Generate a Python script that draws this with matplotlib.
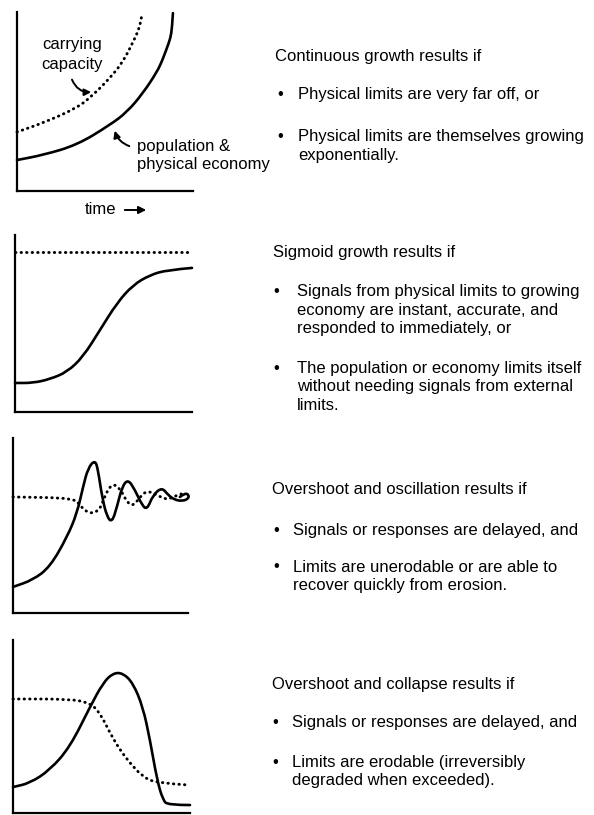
import numpy as np
import matplotlib
matplotlib.use('Agg')
import matplotlib.pyplot as plt
from matplotlib.path import Path
from matplotlib.patches import PathPatch, FancyArrowPatch

plt.rcParams['font.family'] = ['Liberation Sans', 'DejaVu Sans']

W, H = 594, 815

# Panel 1 - continuous growth (time and level on a 0-100 scale)
p1_pop_t = [0, 14.8, 34.1, 52.8, 62.5, 71.6, 79.5, 82.4, 85.2, 87.2, 88.1, 88.6]
p1_pop_v = [17.3, 20.1, 25.7, 36.9, 44.1, 54.7, 66.5, 72.6, 79.9, 85.5, 91.1, 99.4]
p1_cap_t = [0, 14.8, 34.1, 43.2, 52.8, 60.2, 65.9, 68.2, 69.9, 71.0]
p1_cap_v = [33.0, 38.0, 46.4, 53.6, 63.1, 72.1, 83.2, 88.0, 92.7, 98.3]

# Panel 2 - sigmoid growth
p2_pop_t = [0, 10.2, 19.8, 29.4, 38.4, 48.0, 57.6, 66.7, 76.3, 85.9, 100]
p2_pop_v = [16.4, 16.4, 18.6, 22.6, 31.1, 46.3, 61.6, 71.8, 77.4, 80.2, 81.4]
p2_cap_t = [0, 99]
p2_cap_v = [90.4, 90.4]

# Panel 3 - overshoot and oscillation
p3_pop_t = [0, 11.4, 21.1, 30.9, 36.6, 40.0, 42.9, 46.9, 48.6, 50.9, 53.7, 56.6,
            59.4, 62.3, 65.7, 69.7, 73.7, 76.6, 80.0, 85.1, 88.6, 92.6, 96.6,
            100, 100.6, 98.3, 95.4]
p3_pop_v = [14.9, 18.9, 26.3, 43.4, 57.1, 72.0, 82.9, 87.5, 81.7, 66.3, 54.9, 51.8,
            60.6, 72.0, 76.5, 70.3, 61.7, 59.0, 67.4, 71.8, 67.4, 64.6, 64.0,
            65.1, 67.4, 68.6, 66.3]
p3_cap_t = [0, 35.4, 38.3, 44.0, 49.7, 52.6, 56.6, 61.1, 65.1, 68.6, 72.6, 76.6,
            82.3, 88.0, 93.7, 98.3]
p3_cap_v = [66.3, 65.7, 61.1, 56.5, 58.9, 67.4, 74.0, 71.4, 63.4, 61.0, 66.3, 70.0,
            67.4, 64.6, 67.4, 68.6]

# Panel 4 - overshoot and collapse
p4_pop_t = [0, 9.6, 20.9, 32.2, 43.5, 50.8, 56.5, 62.1, 67.8, 73.4, 77.4, 81.4,
            84.7, 87.6, 100]
p4_pop_v = [15.0, 17.3, 24.9, 38.2, 61.3, 75.1, 80.9, 80.9, 75.1, 61.3, 42.2, 19.1,
            7.5, 4.6, 4.6]
p4_cap_t = [0, 32.2, 43.5, 49.2, 54.8, 60.5, 66.1, 73.4, 81.4, 98.9]
p4_cap_v = [65.9, 65.9, 63.6, 57.8, 46.2, 36.4, 28.9, 20.8, 17.3, 16.2]

panels = [
    (p1_pop_t, p1_pop_v, p1_cap_t, p1_cap_v),
    (p2_pop_t, p2_pop_v, p2_cap_t, p2_cap_v),
    (p3_pop_t, p3_pop_v, p3_cap_t, p3_cap_v),
    (p4_pop_t, p4_pop_v, p4_cap_t, p4_cap_v),
]

# axes boxes in pixels: left, right, top, bottom
boxes = [(17, 193, 12, 191), (15, 192, 235, 412), (13, 188, 438, 613), (13, 190, 640, 813)]

# text on the right: (x, y, text)
headings = [
    (275, 57, 'Continuous growth results if'),
    (273, 253, 'Sigmoid growth results if'),
    (272, 490, 'Overshoot and oscillation results if'),
    (272, 685, 'Overshoot and collapse results if'),
]
bullets = [
    (277, 298, [(95, ['Physical limits are very far off, or']),
                (137, ['Physical limits are themselves growing', 'exponentially.'])]),
    (273, 297, [(292, ['Signals from physical limits to growing',
                       'economy are instant, accurate, and',
                       'responded to immediately, or']),
                (368, ['The population or economy limits itself',
                       'without needing signals from external',
                       'limits.'])]),
    (273, 293, [(530, ['Signals or responses are delayed, and']),
                (567, ['Limits are unerodable or are able to',
                       'recover quickly from erosion.'])]),
    (272, 292, [(722, ['Signals or responses are delayed, and']),
                (762, ['Limits are erodable (irreversibly',
                       'degraded when exceeded).'])]),
]


def f(x, y):
    return (x / W, 1 - y / H)


def smooth_path(xs, ys):
    # quadratic bezier through the midpoints, the read points act as controls
    pts = list(zip(xs, ys))
    if len(pts) < 3:
        return Path(pts, [Path.MOVETO] + [Path.LINETO] * (len(pts) - 1))
    verts = [pts[0]]
    codes = [Path.MOVETO]
    mid = ((pts[0][0] + pts[1][0]) / 2, (pts[0][1] + pts[1][1]) / 2)
    verts.append(mid)
    codes.append(Path.LINETO)
    for i in range(1, len(pts) - 1):
        nxt = ((pts[i][0] + pts[i + 1][0]) / 2, (pts[i][1] + pts[i + 1][1]) / 2)
        if i == len(pts) - 2:
            nxt = pts[i + 1]
        verts += [pts[i], nxt]
        codes += [Path.CURVE3, Path.CURVE3]
    return Path(verts, codes)


fig = plt.figure(figsize=(W / 100, H / 100), dpi=100)

for (pt, pv, ct, cv), (l, r, t, b) in zip(panels, boxes):
    ax = fig.add_axes([l / W, 1 - b / H, (r - l) / W, (b - t) / H])
    ax.add_patch(PathPatch(smooth_path(pt, pv), fill=False, edgecolor='black',
                           lw=1.9, capstyle='round', joinstyle='round', clip_on=False))
    ax.add_patch(PathPatch(smooth_path(ct, cv), fill=False, edgecolor='black',
                           lw=2.1, linestyle=(0, (0.15, 1.75)), capstyle='round',
                           clip_on=False))
    ax.set_xlim(0, 100)
    ax.set_ylim(0, 100)
    ax.set_xticks([])
    ax.set_yticks([])
    for s in ['top', 'right']:
        ax.spines[s].set_visible(False)
    for s in ['left', 'bottom']:
        ax.spines[s].set_linewidth(1.6)

fs = 12
# labels on first panel
fig.text(*f(72, 45), 'carrying', fontsize=fs, ha='center', va='center')
fig.text(*f(72, 65), 'capacity', fontsize=fs, ha='center', va='center')
fig.text(*f(137, 146), 'population &', fontsize=fs, ha='left', va='center')
fig.text(*f(137, 165), 'physical economy', fontsize=fs, ha='left', va='center')
fig.text(*f(85, 210), 'time', fontsize=fs, ha='left', va='center')
fig.add_artist(FancyArrowPatch(
    f(122, 210), f(149, 210), transform=fig.transFigure,
    arrowstyle='-|>', mutation_scale=11, lw=1.4, color='black'))
fig.add_artist(FancyArrowPatch(
    f(71, 77), f(94, 92), transform=fig.transFigure,
    connectionstyle='arc3,rad=0.4', arrowstyle='-|>', mutation_scale=10,
    lw=1.4, color='black'))
fig.add_artist(FancyArrowPatch(
    f(132, 147), f(114, 128), transform=fig.transFigure,
    connectionstyle='arc3,rad=-0.3', arrowstyle='-|>', mutation_scale=10,
    lw=1.4, color='black'))

for x, y, txt in headings:
    fig.text(*f(x, y), txt, fontsize=fs, ha='left', va='center')

for bx, tx, items in bullets:
    for y0, lines in items:
        fig.text(*f(bx, y0), '\u2022', fontsize=fs, ha='left', va='center')
        for i, line in enumerate(lines):
            fig.text(*f(tx, y0 + i * 18.5), line, fontsize=fs, ha='left', va='center')

fig.savefig('out.png', dpi=100)
print('Plot done')
